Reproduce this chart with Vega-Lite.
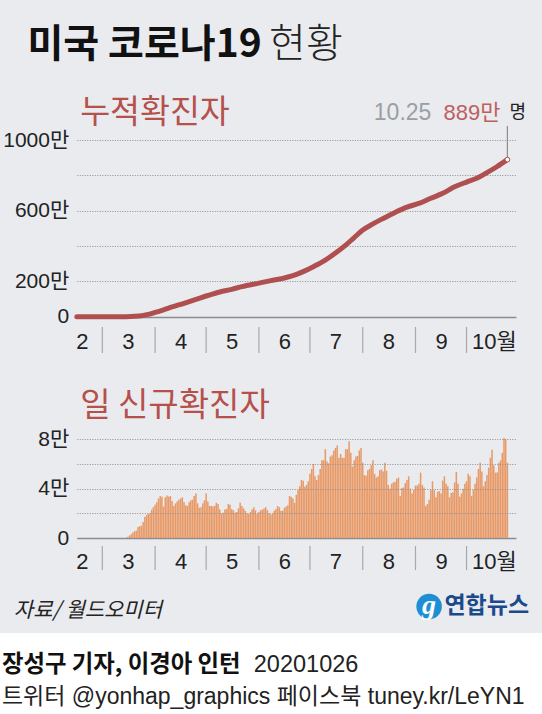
{"$schema":"https://vega.github.io/schema/vega-lite/v6.json","width":542,"height":633,"autosize":{"type":"none"},"padding":{"left":0,"right":0,"top":0,"bottom":81},"background":"#ffffff","view":{"fill":"#E9EBEF","stroke":null},
"datasets":{
"months":[{"m":"2020-03-01"},{"m":"2020-04-01"},{"m":"2020-05-01"},{"m":"2020-06-01"},{"m":"2020-07-01"},{"m":"2020-08-01"},{"m":"2020-09-01"},{"m":"2020-10-01"}],
"cum":[{"d":"2020-02-15","v":0},{"d":"2020-03-01","v":0.01},{"d":"2020-03-10","v":0.1},{"d":"2020-03-15","v":0.4},{"d":"2020-03-20","v":2},{"d":"2020-03-25","v":7},{"d":"2020-03-28","v":13},{"d":"2020-04-01","v":24},{"d":"2020-04-06","v":39},{"d":"2020-04-11","v":55},{"d":"2020-04-18","v":76},{"d":"2020-04-25","v":98},{"d":"2020-05-02","v":120},{"d":"2020-05-09","v":140},{"d":"2020-05-16","v":155},{"d":"2020-05-22","v":170},{"d":"2020-06-01","v":190},{"d":"2020-06-08","v":204},{"d":"2020-06-15","v":217},{"d":"2020-06-21","v":232},{"d":"2020-06-27","v":255},{"d":"2020-07-03","v":283},{"d":"2020-07-10","v":320},{"d":"2020-07-16","v":360},{"d":"2020-07-22","v":405},{"d":"2020-07-27","v":448},{"d":"2020-08-01","v":490},{"d":"2020-08-07","v":525},{"d":"2020-08-13","v":556},{"d":"2020-08-20","v":590},{"d":"2020-08-27","v":620},{"d":"2020-09-03","v":641},{"d":"2020-09-10","v":670},{"d":"2020-09-17","v":698},{"d":"2020-09-24","v":735},{"d":"2020-10-01","v":762},{"d":"2020-10-07","v":783},{"d":"2020-10-13","v":815},{"d":"2020-10-19","v":850},{"d":"2020-10-25","v":889}],
"last":[{"d":"2020-10-25","v":889,"date":"10.25","count":"889만","unit":"명"}],
"daily":[{"d":"2020-03-15","v":0.03},{"d":"2020-03-16","v":0.1},{"d":"2020-03-17","v":0.2},{"d":"2020-03-18","v":0.3},{"d":"2020-03-19","v":0.45},{"d":"2020-03-20","v":0.55},{"d":"2020-03-21","v":0.6},{"d":"2020-03-22","v":0.9},{"d":"2020-03-23","v":0.95},{"d":"2020-03-24","v":1.0},{"d":"2020-03-25","v":1.3},{"d":"2020-03-26","v":1.7},{"d":"2020-03-27","v":1.85},{"d":"2020-03-28","v":1.95},{"d":"2020-03-29","v":2.0},{"d":"2020-03-30","v":2.3},{"d":"2020-03-31","v":2.5},
{"d":"2020-04-01","v":2.7},{"d":"2020-04-02","v":2.9},{"d":"2020-04-03","v":3.2},{"d":"2020-04-04","v":3.4},{"d":"2020-04-05","v":3.35},{"d":"2020-04-06","v":2.55},{"d":"2020-04-07","v":3.3},{"d":"2020-04-08","v":3.45},{"d":"2020-04-09","v":3.35},{"d":"2020-04-10","v":3.4},{"d":"2020-04-11","v":3.0},{"d":"2020-04-12","v":2.6},{"d":"2020-04-13","v":2.8},{"d":"2020-04-14","v":2.95},{"d":"2020-04-15","v":3.1},{"d":"2020-04-16","v":3.2},{"d":"2020-04-17","v":3.3},{"d":"2020-04-18","v":2.9},{"d":"2020-04-19","v":2.65},{"d":"2020-04-20","v":2.6},{"d":"2020-04-21","v":2.9},{"d":"2020-04-22","v":3.05},{"d":"2020-04-23","v":3.1},{"d":"2020-04-24","v":3.4},{"d":"2020-04-25","v":3.6},{"d":"2020-04-26","v":2.8},{"d":"2020-04-27","v":2.45},{"d":"2020-04-28","v":2.5},{"d":"2020-04-29","v":2.8},{"d":"2020-04-30","v":3.05},
{"d":"2020-05-01","v":3.6},{"d":"2020-05-02","v":2.95},{"d":"2020-05-03","v":2.6},{"d":"2020-05-04","v":2.6},{"d":"2020-05-05","v":2.55},{"d":"2020-05-06","v":2.6},{"d":"2020-05-07","v":2.85},{"d":"2020-05-08","v":2.75},{"d":"2020-05-09","v":2.3},{"d":"2020-05-10","v":2.0},{"d":"2020-05-11","v":2.05},{"d":"2020-05-12","v":2.3},{"d":"2020-05-13","v":2.35},{"d":"2020-05-14","v":2.75},{"d":"2020-05-15","v":2.7},{"d":"2020-05-16","v":2.35},{"d":"2020-05-17","v":2.25},{"d":"2020-05-18","v":2.05},{"d":"2020-05-19","v":2.1},{"d":"2020-05-20","v":2.4},{"d":"2020-05-21","v":2.85},{"d":"2020-05-22","v":2.6},{"d":"2020-05-23","v":2.4},{"d":"2020-05-24","v":2.2},{"d":"2020-05-25","v":2.0},{"d":"2020-05-26","v":1.95},{"d":"2020-05-27","v":2.1},{"d":"2020-05-28","v":2.3},{"d":"2020-05-29","v":2.5},{"d":"2020-05-30","v":2.25},{"d":"2020-05-31","v":1.95},
{"d":"2020-06-01","v":2.1},{"d":"2020-06-02","v":2.25},{"d":"2020-06-03","v":2.3},{"d":"2020-06-04","v":2.4},{"d":"2020-06-05","v":2.5},{"d":"2020-06-06","v":2.25},{"d":"2020-06-07","v":2.0},{"d":"2020-06-08","v":1.9},{"d":"2020-06-09","v":1.95},{"d":"2020-06-10","v":2.2},{"d":"2020-06-11","v":2.35},{"d":"2020-06-12","v":2.6},{"d":"2020-06-13","v":2.5},{"d":"2020-06-14","v":2.2},{"d":"2020-06-15","v":2.2},{"d":"2020-06-16","v":2.45},{"d":"2020-06-17","v":2.55},{"d":"2020-06-18","v":2.65},{"d":"2020-06-19","v":3.4},{"d":"2020-06-20","v":3.35},{"d":"2020-06-21","v":3.2},{"d":"2020-06-22","v":2.85},{"d":"2020-06-23","v":3.5},{"d":"2020-06-24","v":3.9},{"d":"2020-06-25","v":4.2},{"d":"2020-06-26","v":4.7},{"d":"2020-06-27","v":4.65},{"d":"2020-06-28","v":4.15},{"d":"2020-06-29","v":4.3},{"d":"2020-06-30","v":4.6},
{"d":"2020-07-01","v":5.2},{"d":"2020-07-02","v":5.6},{"d":"2020-07-03","v":6.0},{"d":"2020-07-04","v":5.0},{"d":"2020-07-05","v":4.7},{"d":"2020-07-06","v":5.1},{"d":"2020-07-07","v":5.6},{"d":"2020-07-08","v":6.3},{"d":"2020-07-09","v":6.3},{"d":"2020-07-10","v":7.2},{"d":"2020-07-11","v":6.2},{"d":"2020-07-12","v":6.05},{"d":"2020-07-13","v":6.6},{"d":"2020-07-14","v":6.7},{"d":"2020-07-15","v":7.1},{"d":"2020-07-16","v":7.3},{"d":"2020-07-17","v":7.5},{"d":"2020-07-18","v":6.5},{"d":"2020-07-19","v":6.8},{"d":"2020-07-20","v":6.5},{"d":"2020-07-21","v":6.5},{"d":"2020-07-22","v":7.2},{"d":"2020-07-23","v":7.2},{"d":"2020-07-24","v":7.85},{"d":"2020-07-25","v":6.9},{"d":"2020-07-26","v":5.8},{"d":"2020-07-27","v":6.3},{"d":"2020-07-28","v":6.6},{"d":"2020-07-29","v":6.65},{"d":"2020-07-30","v":7.1},{"d":"2020-07-31","v":7.3},
{"d":"2020-08-01","v":6.1},{"d":"2020-08-02","v":5.1},{"d":"2020-08-03","v":5.05},{"d":"2020-08-04","v":5.5},{"d":"2020-08-05","v":5.6},{"d":"2020-08-06","v":5.9},{"d":"2020-08-07","v":6.3},{"d":"2020-08-08","v":5.2},{"d":"2020-08-09","v":4.9},{"d":"2020-08-10","v":5.0},{"d":"2020-08-11","v":5.5},{"d":"2020-08-12","v":5.55},{"d":"2020-08-13","v":5.4},{"d":"2020-08-14","v":6.1},{"d":"2020-08-15","v":5.45},{"d":"2020-08-16","v":4.3},{"d":"2020-08-17","v":4.0},{"d":"2020-08-18","v":4.4},{"d":"2020-08-19","v":4.5},{"d":"2020-08-20","v":4.55},{"d":"2020-08-21","v":4.8},{"d":"2020-08-22","v":4.9},{"d":"2020-08-23","v":3.4},{"d":"2020-08-24","v":4.05},{"d":"2020-08-25","v":4.1},{"d":"2020-08-26","v":4.45},{"d":"2020-08-27","v":4.7},{"d":"2020-08-28","v":5.0},{"d":"2020-08-29","v":4.0},{"d":"2020-08-30","v":3.6},{"d":"2020-08-31","v":3.9},
{"d":"2020-09-01","v":4.25},{"d":"2020-09-02","v":4.25},{"d":"2020-09-03","v":4.4},{"d":"2020-09-04","v":5.3},{"d":"2020-09-05","v":4.3},{"d":"2020-09-06","v":4.1},{"d":"2020-09-07","v":2.6},{"d":"2020-09-08","v":2.75},{"d":"2020-09-09","v":3.1},{"d":"2020-09-10","v":3.9},{"d":"2020-09-11","v":4.6},{"d":"2020-09-12","v":3.9},{"d":"2020-09-13","v":3.3},{"d":"2020-09-14","v":3.75},{"d":"2020-09-15","v":3.8},{"d":"2020-09-16","v":3.6},{"d":"2020-09-17","v":4.65},{"d":"2020-09-18","v":5.0},{"d":"2020-09-19","v":4.4},{"d":"2020-09-20","v":4.2},{"d":"2020-09-21","v":3.3},{"d":"2020-09-22","v":3.65},{"d":"2020-09-23","v":3.7},{"d":"2020-09-24","v":4.5},{"d":"2020-09-25","v":5.35},{"d":"2020-09-26","v":4.4},{"d":"2020-09-27","v":3.35},{"d":"2020-09-28","v":3.6},{"d":"2020-09-29","v":4.0},{"d":"2020-09-30","v":4.4},
{"d":"2020-10-01","v":4.6},{"d":"2020-10-02","v":5.2},{"d":"2020-10-03","v":5.0},{"d":"2020-10-04","v":3.4},{"d":"2020-10-05","v":3.9},{"d":"2020-10-06","v":4.4},{"d":"2020-10-07","v":4.9},{"d":"2020-10-08","v":5.6},{"d":"2020-10-09","v":6.1},{"d":"2020-10-10","v":5.4},{"d":"2020-10-11","v":4.2},{"d":"2020-10-12","v":4.6},{"d":"2020-10-13","v":5.1},{"d":"2020-10-14","v":5.7},{"d":"2020-10-15","v":6.5},{"d":"2020-10-16","v":7.15},{"d":"2020-10-17","v":5.9},{"d":"2020-10-18","v":5.3},{"d":"2020-10-19","v":5.3},{"d":"2020-10-20","v":6.1},{"d":"2020-10-21","v":6.3},{"d":"2020-10-22","v":6.9},{"d":"2020-10-23","v":8.1},{"d":"2020-10-24","v":8.0},{"d":"2020-10-25","v":6.1}]
},
"layer":[
{"layer":[
{"data":{"name":"cum"},"mark":{"type":"line","color":"#B04F4F","strokeWidth":5,"interpolate":"monotone","strokeCap":"round"},
"encoding":{"x":{"field":"d","type":"temporal","scale":{"type":"utc","nice":false,"padding":0,"domain":[{"year":2020,"month":2,"date":15,"utc":true},{"year":2020,"month":10,"date":30,"utc":true}],"range":[76.8,515.9]},
"axis":{"title":null,"orient":"bottom","values":[{"year":2020,"month":2,"date":18,"utc":true},{"year":2020,"month":3,"date":16,"utc":true},{"year":2020,"month":4,"date":16,"utc":true},{"year":2020,"month":5,"date":16,"utc":true},{"year":2020,"month":6,"date":16,"utc":true},{"year":2020,"month":7,"date":16,"utc":true},{"year":2020,"month":8,"date":16,"utc":true},{"year":2020,"month":9,"date":16,"utc":true},{"year":2020,"month":10,"date":17,"utc":true}],"labelExpr":"utcmonth(datum.value)==9?'10월':''+(utcmonth(datum.value)+1)","offset":-316,"domain":true,"domainColor":"#8C8C8C","domainWidth":1.5,"ticks":false,"grid":false,"labelPadding":14,"labelFont":"'Liberation Sans','Noto Sans CJK KR'","labelFontSize":22,"labelColor":"#222222","labelAngle":0,"labelOverlap":false,"labelBaseline":"top","labelFlush":false}},
"y":{"field":"v","type":"quantitative","scale":{"domain":[0,1000],"range":[316.7,140],"nice":false},
"axis":{"title":null,"orient":"left","values":[0,200,400,600,800,1000],"labelExpr":"datum.value==0?'0':(datum.value==400||datum.value==800)?'':datum.value+'만'","offset":-76.8,"domain":false,"ticks":false,"grid":true,"gridColor":"#8E8E8E","gridDash":[1,1.5],"gridWidth":1,"labelPadding":8,"labelFont":"'Liberation Sans','Noto Sans CJK KR'","labelFontSize":21,"labelColor":"#222222","labelOverlap":false}}}},
{"data":{"name":"months"},"mark":{"type":"rule","color":"#A8A8A8","strokeWidth":1.2},"encoding":{"x":{"field":"m","type":"temporal"},"y":{"datum":-58,"type":"quantitative"},"y2":{"datum":-205}}},
{"data":{"name":"last"},"mark":{"type":"rule","color":"#8C8C8C","strokeWidth":1.2},"encoding":{"x":{"field":"d","type":"temporal"},"y":{"field":"v","type":"quantitative"},"y2":{"datum":1079}}},
{"data":{"name":"last"},"mark":{"type":"point","filled":true,"fill":"#ffffff","stroke":"#B04F4F","strokeWidth":1,"size":22,"opacity":1},"encoding":{"x":{"field":"d","type":"temporal"},"y":{"field":"v","type":"quantitative"}}},
{"data":{"name":"last"},"mark":{"type":"text","align":"right","baseline":"middle","dx":-76,"font":"Liberation Sans","fontSize":23,"color":"#9A9FA5"},"encoding":{"x":{"field":"d","type":"temporal"},"y":{"datum":1153,"type":"quantitative"},"text":{"field":"date"}}},
{"data":{"name":"last"},"mark":{"type":"text","align":"right","baseline":"middle","dx":-7,"font":"'Liberation Sans','Noto Sans CJK KR'","fontSize":22,"color":"#BE5F5F"},"encoding":{"x":{"field":"d","type":"temporal"},"y":{"datum":1153,"type":"quantitative"},"text":{"field":"count"}}},
{"data":{"name":"last"},"mark":{"type":"text","align":"left","baseline":"middle","dx":2,"font":"Noto Sans CJK KR","fontSize":18,"color":"#222222"},"encoding":{"x":{"field":"d","type":"temporal"},"y":{"datum":1153,"type":"quantitative"},"text":{"field":"unit"}}},
{"data":{"values":[{"label":"미국 코로나19"}]},"mark":{"type":"text","align":"left","baseline":"middle","font":"Noto Sans CJK KR","fontWeight":"bold","fontSize":39,"color":"#111111"},"encoding":{"x":{"datum":{"year":2020,"month":1,"date":17,"utc":true},"type":"temporal"},"y":{"datum":1537,"type":"quantitative"},"text":{"field":"label"}}},
{"data":{"values":[{"label":"현황"}]},"mark":{"type":"text","align":"left","baseline":"middle","font":"Noto Sans CJK KR","fontWeight":300,"fontSize":40,"color":"#222222"},"encoding":{"x":{"datum":{"year":2020,"month":6,"date":7,"utc":true},"type":"temporal"},"y":{"datum":1537,"type":"quantitative"},"text":{"field":"label"}}},
{"data":{"values":[{"label":"누적확진자"}]},"mark":{"type":"text","align":"left","baseline":"middle","font":"Noto Sans CJK KR","fontSize":32.5,"color":"#B5504B"},"encoding":{"x":{"datum":{"year":2020,"month":2,"date":17,"utc":true},"type":"temporal"},"y":{"datum":1150,"type":"quantitative"},"text":{"field":"label"}}},
{"data":{"values":[{"label":"자료/ 월드오미터"}]},"mark":{"type":"text","align":"left","baseline":"middle","font":"Noto Sans CJK KR","fontStyle":"italic","fontSize":21,"color":"#222222"},"encoding":{"x":{"datum":{"year":2020,"month":1,"date":9,"utc":true},"type":"temporal"},"y":{"datum":-1666,"type":"quantitative"},"text":{"field":"label"}}},
{"data":{"values":[{"label":"logo"}]},"mark":{"type":"point","filled":true,"shape":"circle","size":650,"color":"#1E8FD5","opacity":1},"encoding":{"x":{"datum":{"year":2020,"month":9,"date":9,"utc":true},"type":"temporal"},"y":{"datum":-1640,"type":"quantitative"}}},
{"data":{"values":[{"label":"g"}]},"mark":{"type":"text","align":"center","baseline":"middle","font":"Liberation Serif","fontStyle":"italic","fontWeight":"bold","fontSize":28,"color":"#ffffff"},"encoding":{"x":{"datum":{"year":2020,"month":9,"date":9,"utc":true},"type":"temporal"},"y":{"datum":-1640,"type":"quantitative"},"text":{"field":"label"}}},
{"data":{"values":[{"label":"연합뉴스"}]},"mark":{"type":"text","align":"left","baseline":"middle","font":"Noto Sans CJK KR","fontWeight":"bold","fontSize":23,"color":"#1B4A8C"},"encoding":{"x":{"datum":{"year":2020,"month":9,"date":18,"utc":true},"type":"temporal"},"y":{"datum":-1640,"type":"quantitative"},"text":{"field":"label"}}},
{"data":{"values":[{"label":"장성구 기자, 이경아 인턴"}]},"mark":{"type":"text","align":"left","baseline":"middle","font":"Noto Sans CJK KR","fontWeight":"bold","fontSize":23.4,"color":"#111111"},"encoding":{"x":{"datum":{"year":2020,"month":1,"date":2,"utc":true},"type":"temporal"},"y":{"datum":-1972,"type":"quantitative"},"text":{"field":"label"}}},
{"data":{"values":[{"label":"20201026"}]},"mark":{"type":"text","align":"left","baseline":"middle","font":"Liberation Sans","fontSize":23.5,"color":"#222222"},"encoding":{"x":{"datum":{"year":2020,"month":5,"date":29,"utc":true},"type":"temporal"},"y":{"datum":-1972,"type":"quantitative"},"text":{"field":"label"}}},
{"data":{"values":[{"label":"트위터 @yonhap_graphics  페이스북 tuney.kr/LeYN1"}]},"mark":{"type":"text","align":"left","baseline":"middle","font":"'Liberation Sans','Noto Sans CJK KR'","fontSize":23,"color":"#222222"},"encoding":{"x":{"datum":{"year":2020,"month":1,"date":2,"utc":true},"type":"temporal"},"y":{"datum":-2153,"type":"quantitative"},"text":{"field":"label"}}}
]},
{"layer":[
{"data":{"name":"daily"},"mark":{"type":"bar","color":"#E8955E","width":1.5,"opacity":0.95,"orient":"vertical"},
"encoding":{"x":{"field":"d","type":"temporal",
"axis":{"title":null,"orient":"bottom","values":[{"year":2020,"month":2,"date":18,"utc":true},{"year":2020,"month":3,"date":16,"utc":true},{"year":2020,"month":4,"date":16,"utc":true},{"year":2020,"month":5,"date":16,"utc":true},{"year":2020,"month":6,"date":16,"utc":true},{"year":2020,"month":7,"date":16,"utc":true},{"year":2020,"month":8,"date":16,"utc":true},{"year":2020,"month":9,"date":16,"utc":true},{"year":2020,"month":10,"date":17,"utc":true}],"labelExpr":"utcmonth(datum.value)==9?'10월':''+(utcmonth(datum.value)+1)","offset":-95,"domain":true,"domainColor":"#8C8C8C","domainWidth":1.5,"ticks":false,"grid":false,"labelPadding":13,"labelFont":"'Liberation Sans','Noto Sans CJK KR'","labelFontSize":22,"labelColor":"#222222","labelAngle":0,"labelOverlap":false,"labelBaseline":"top","labelFlush":false}},
"y":{"field":"v","type":"quantitative","scale":{"domain":[0,8],"range":[538,439.3],"nice":false},
"axis":{"title":null,"orient":"left","values":[0,2,4,6,8],"labelExpr":"datum.value==0?'0':(datum.value==2||datum.value==6)?'':datum.value+'만'","offset":-76.8,"zindex":1,"domain":false,"ticks":false,"grid":true,"gridColor":"#8E8E8E","gridDash":[1,1.5],"gridWidth":1,"labelPadding":8,"labelFont":"'Liberation Sans','Noto Sans CJK KR'","labelFontSize":21,"labelColor":"#222222","labelOverlap":false}}}},
{"data":{"name":"months"},"mark":{"type":"rule","color":"#A8A8A8","strokeWidth":1.2},"encoding":{"x":{"field":"m","type":"temporal"},"y":{"datum":-0.65,"type":"quantitative"},"y2":{"datum":-2.6}}},
{"data":{"values":[{"label":"일 신규확진자"}]},"mark":{"type":"text","align":"left","baseline":"middle","font":"Noto Sans CJK KR","fontSize":33,"color":"#B5504B"},"encoding":{"x":{"datum":{"year":2020,"month":2,"date":17,"utc":true},"type":"temporal"},"y":{"datum":10.7,"type":"quantitative"},"text":{"field":"label"}}}
]}
],
"resolve":{"scale":{"y":"independent"},"axis":{"x":"independent","y":"independent"}}}
